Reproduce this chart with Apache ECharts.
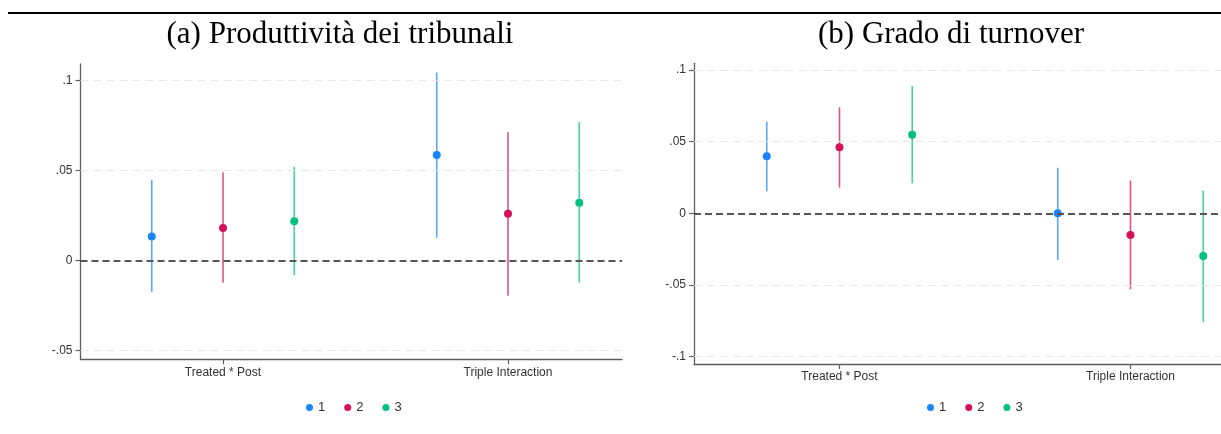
<!DOCTYPE html>
<html>
<head>
<meta charset="utf-8">
<script src="https://cdn.jsdelivr.net/npm/echarts@6/dist/echarts.min.js"></script>
<style>
html,body{margin:0;padding:0;background:#fff;}
#chart{width:1221px;height:434px;}
</style>
</head>
<body>
<div id="chart"></div>
<script>
// ---- data ----
const categories = ['Treated * Post', 'Triple Interaction'];
const seriesNames = ['1', '2', '3'];
const panelTitles = ['(a) Produttività dei tribunali', '(b) Grado di turnover'];

// Panel (a): estimates, lower and upper CI bounds per series [TP, TI]
const aEst1 = [0.0133, 0.0585];
const aLo1  = [-0.0173, 0.0126];
const aHi1  = [0.0447, 0.1043];
const aEst2 = [0.0180, 0.0259];
const aLo2  = [-0.0123, -0.0195];
const aHi2  = [0.0490, 0.0713];
const aEst3 = [0.0218, 0.0320];
const aLo3  = [-0.0082, -0.0122];
const aHi3  = [0.0520, 0.0768];

// Panel (b)
const bEst1 = [0.0398, 0.0000];
const bLo1  = [0.0154, -0.0326];
const bHi1  = [0.0639, 0.0318];
const bEst2 = [0.0461, -0.0151];
const bLo2  = [0.0179, -0.0530];
const bHi2  = [0.0740, 0.0228];
const bEst3 = [0.0549, -0.0298];
const bLo3  = [0.0209, -0.0760];
const bHi3  = [0.0888, 0.0158];

const aYTicks = [-0.05, 0, 0.05, 0.1];
const aYLabels = ['-.05', '0', '.05', '.1'];
const bYTicks = [-0.1, -0.05, 0, 0.05, 0.1];
const bYLabels = ['-.1', '-.05', '0', '.05', '.1'];

// ---- style ----
const colors = ['#1a85ff', '#d41159', '#00bf7f'];
const groupOffsets = [-0.25, 0, 0.25];
const axisColor = '#5e5e5e';
const textColor = '#333';
const sans = 'Liberation Sans, Arial, sans-serif';

const panels = [
  { est: [aEst1, aEst2, aEst3], lo: [aLo1, aLo2, aLo3], hi: [aHi1, aHi2, aHi3],
    ticks: aYTicks, labels: aYLabels },
  { est: [bEst1, bEst2, bEst3], lo: [bLo1, bLo2, bLo3], hi: [bHi1, bHi2, bHi3],
    ticks: bYTicks, labels: bYLabels }
];

const grids = [
  { left: 80.5, top: 64, width: 541.5, height: 295.3 },
  { left: 694, top: 63.3, width: 527, height: 300.7 }
];
const xRanges = [[0.5, 2.4], [0.5, 2.311]];
const yRanges = [[-0.0548, 0.109], [-0.1052, 0.1047]];

function labelFor(ticks, labels) {
  return function (v) {
    for (let i = 0; i < ticks.length; i++) {
      if (Math.abs(ticks[i] - v) < 1e-9) return labels[i];
    }
    return '';
  };
}

const xAxes = [], yAxes = [], series = [];
panels.forEach((p, pi) => {
  xAxes.push({
    type: 'value', gridIndex: pi, min: xRanges[pi][0], max: xRanges[pi][1],
    axisLine: { show: true, onZero: false, lineStyle: { color: axisColor, width: 1.3 } },
    axisTick: { show: true, length: 5, customValues: [1, 2], lineStyle: { color: axisColor, width: 1.2 } },
    axisLabel: {
      customValues: [1, 2], margin: 7, color: textColor, fontSize: 12, fontFamily: sans,
      formatter: v => categories[Math.round(v) - 1] || ''
    },
    splitLine: { show: false }
  });
  yAxes.push({
    type: 'value', gridIndex: pi, min: yRanges[pi][0], max: yRanges[pi][1],
    axisLine: { show: true, onZero: false, lineStyle: { color: axisColor, width: 1.3 } },
    axisTick: { show: true, length: 5, customValues: p.ticks, lineStyle: { color: axisColor, width: 1.2 } },
    axisLabel: {
      customValues: p.ticks, margin: 8, color: textColor, fontSize: 12, fontFamily: sans,
      formatter: labelFor(p.ticks, p.labels)
    },
    splitLine: { show: false }
  });
  // grid lines + zero line
  series.push({
    type: 'line', xAxisIndex: pi, yAxisIndex: pi, data: [], silent: true, z: 1,
    markLine: {
      silent: true, symbol: 'none', label: { show: false }, animation: false,
      data: p.ticks.map(t => ({
        yAxis: t,
        lineStyle: t === 0
          ? { color: '#555', width: 1.8, type: [7, 4] }
          : { color: '#e8e8e8', width: 1, type: [8, 5] }
      }))
    }
  });
  for (let s = 0; s < 3; s++) {
    const data = categories.map((c, ci) => [ci + 1 + groupOffsets[s], p.lo[s][ci], p.hi[s][ci], p.est[s][ci]]);
    const col = colors[s];
    series.push({
      type: 'custom', name: seriesNames[s], xAxisIndex: pi, yAxisIndex: pi, z: 3,
      itemStyle: { color: col },
      encode: { x: 0, y: [1, 2, 3] },
      data: data,
      renderItem: function (params, api) {
        const x = api.value(0);
        const lo = api.coord([x, api.value(1)]);
        const hi = api.coord([x, api.value(2)]);
        const pt = api.coord([x, api.value(3)]);
        return {
          type: 'group',
          children: [
            { type: 'line', shape: { x1: lo[0], y1: lo[1], x2: hi[0], y2: hi[1] },
              style: { stroke: col, lineWidth: 1.6, opacity: 0.72 } },
            { type: 'circle', shape: { cx: pt[0], cy: pt[1], r: 4 },
              style: { fill: col } }
          ]
        };
      }
    });
  }
});

const chart = echarts.init(document.getElementById('chart'), null, { renderer: 'canvas' });
chart.setOption({
  animation: false,
  backgroundColor: '#fff',
  grid: grids.map(g => Object.assign({ containLabel: false }, g)),
  xAxis: xAxes,
  yAxis: yAxes,
  legend: [
    { data: seriesNames, left: 301, top: 396, icon: 'circle', itemWidth: 7, itemHeight: 7,
      itemGap: 19, textStyle: { color: textColor, fontSize: 13, fontFamily: sans } },
    { data: seriesNames, left: 922, top: 396, icon: 'circle', itemWidth: 7, itemHeight: 7,
      itemGap: 19, textStyle: { color: textColor, fontSize: 13, fontFamily: sans } }
  ],
  graphic: [
    { type: 'rect', shape: { x: 8, y: 12, width: 1213, height: 2 }, style: { fill: '#000' } },
    { type: 'text', x: 340, y: 35, style: { text: panelTitles[0], fill: '#000',
      font: '31px "Liberation Serif", "Times New Roman", serif', textAlign: 'center', textVerticalAlign: 'middle' } },
    { type: 'text', x: 951, y: 35, style: { text: panelTitles[1], fill: '#000',
      font: '31px "Liberation Serif", "Times New Roman", serif', textAlign: 'center', textVerticalAlign: 'middle' } }
  ],
  series: series
});
</script>
</body>
</html>
